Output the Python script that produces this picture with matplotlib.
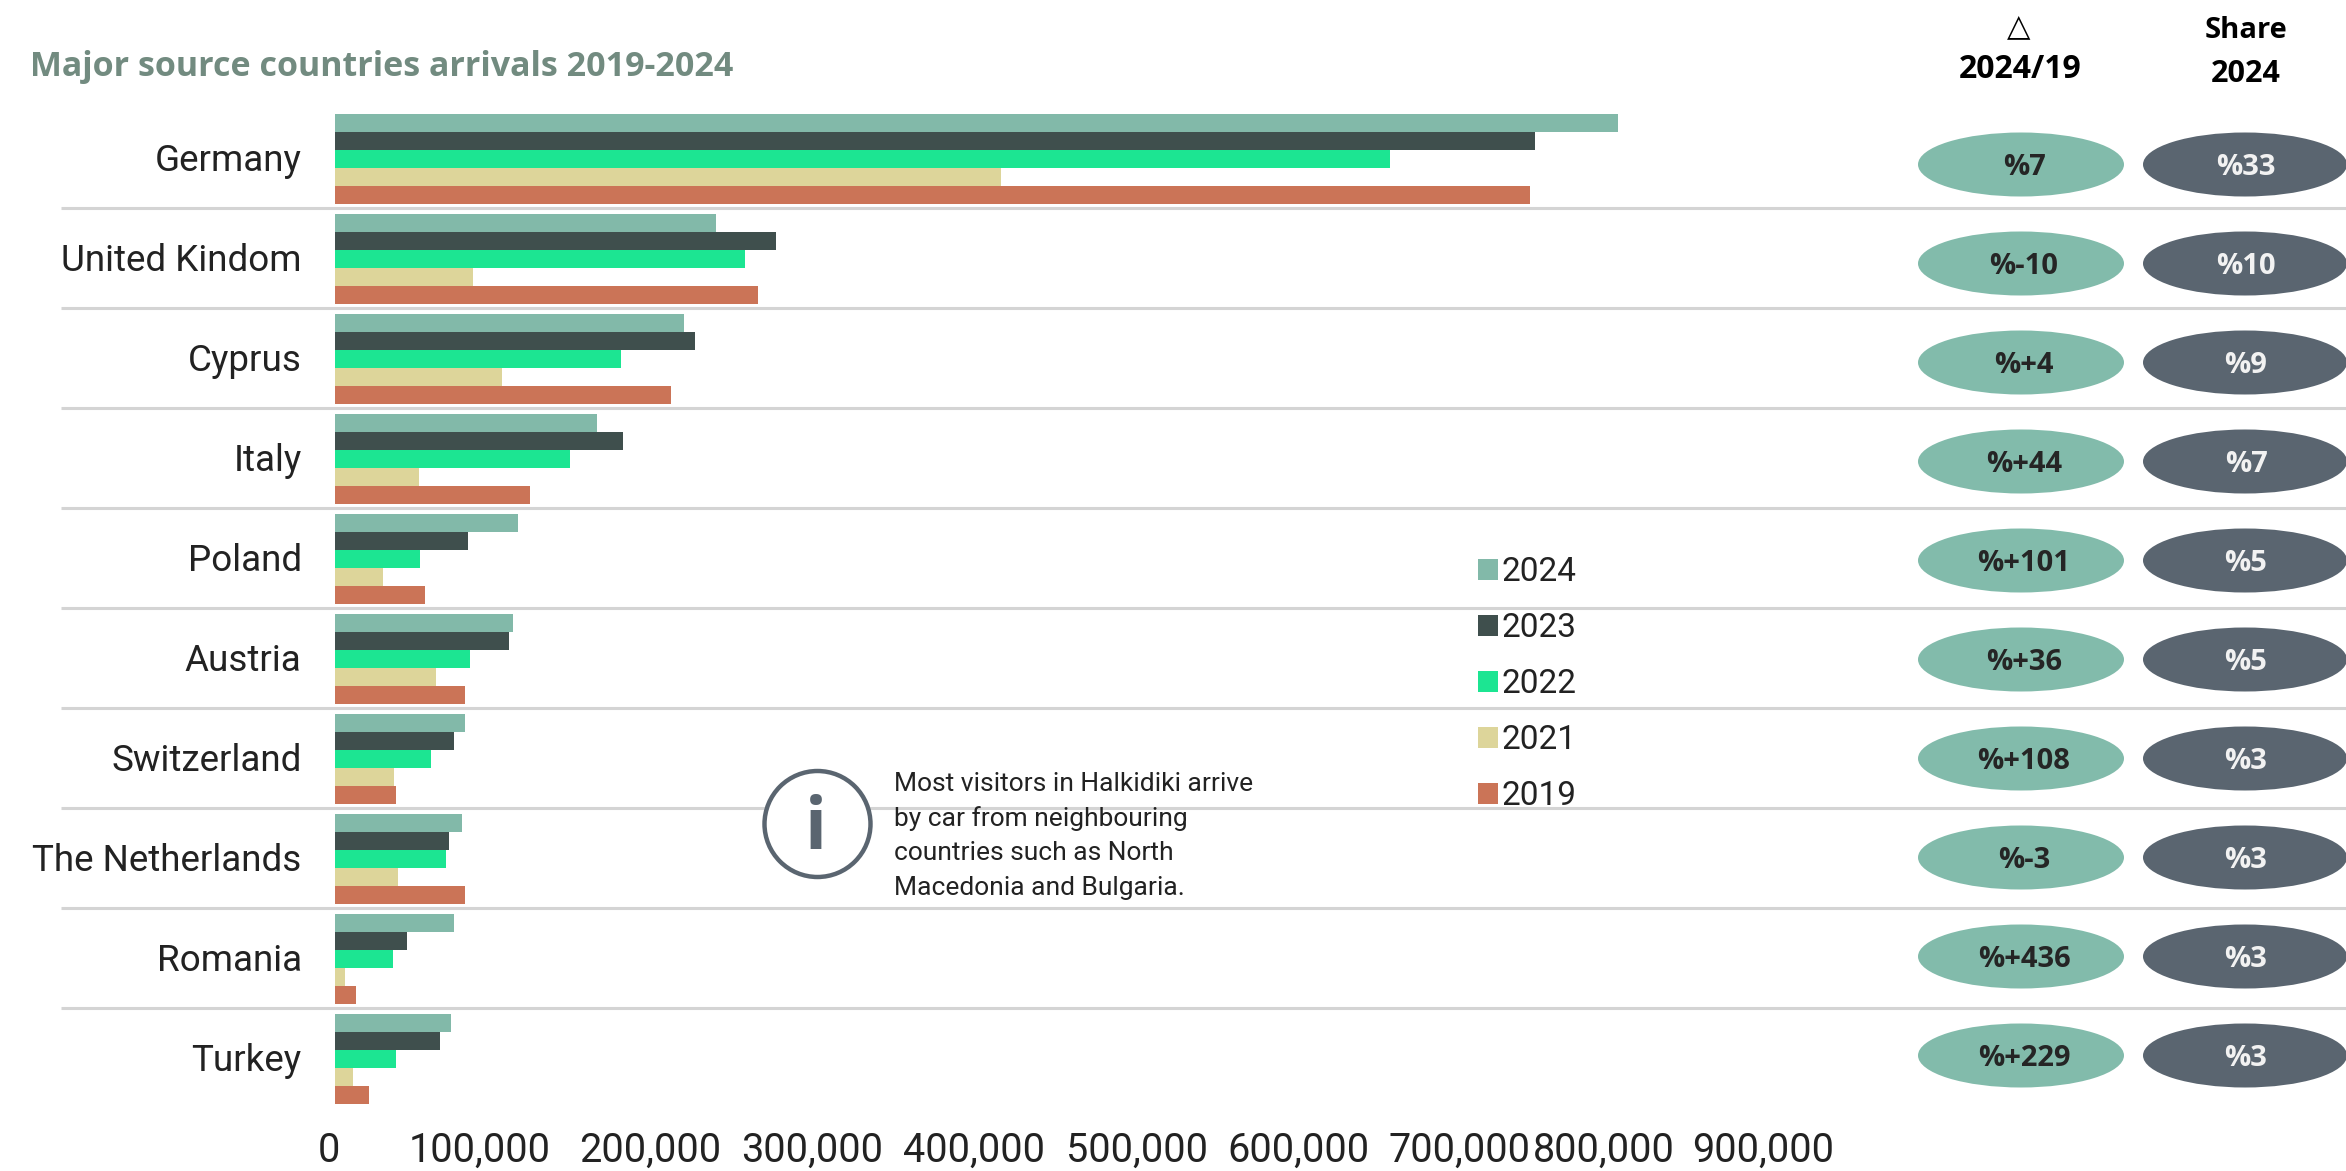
import matplotlib
matplotlib.use("Agg")
import matplotlib.pyplot as plt
from matplotlib import patches
from matplotlib.transforms import ScaledTranslation

W, H = 2346, 1171

countries = ["Germany", "United Kindom", "Cyprus", "Italy", "Poland", "Austria",
             "Switzerland", "The Netherlands", "Romania", "Turkey"]
years = ["2024", "2023", "2022", "2021", "2019"]
v2024 = [798000, 237000, 217000, 163000, 114000, 111000, 81000, 79000, 74000, 72000]
v2023 = [746000, 274000, 224000, 179000, 83000, 108000, 74000, 71000, 45000, 65000]
v2022 = [656000, 255000, 178000, 146000, 53000, 84000, 60000, 69000, 36000, 38000]
v2021 = [414000, 86000, 104000, 52000, 30000, 63000, 37000, 39000, 6500, 11000]
v2019 = [743000, 263000, 209000, 121000, 56000, 81000, 38000, 81000, 13000, 21000]
delta = ["%7", "%-10", "%+4", "%+44", "%+101", "%+36", "%+108", "%-3", "%+436", "%+229"]
share = ["%33", "%10", "%9", "%7", "%5", "%5", "%3", "%3", "%3", "%3"]
xticks = [0, 100000, 200000, 300000, 400000, 500000, 600000, 700000, 800000, 900000]
colors = ["#82B9A9", "#3F4F4D", "#1CE592", "#DDD59A", "#CB7457"]

thin = ["Roboto", "DejaVu Sans"]
bold = ["Open Sans", "DejaVu Sans"]
text_col = "#222222"

fig = plt.figure(figsize=(W / 100, H / 100), dpi=100, facecolor="w")

# overlay in pixels for the side columns and the info note
ov = fig.add_axes([0, 0, 1, 1])
ov.set_xlim(0, W)
ov.set_ylim(H, 0)
ov.axis("off")

# bar axes, 160.8 px per 100,000 and 100 px per row
x0, bottom = 335, 1110
ax = fig.add_axes([x0 / W, (H - bottom) / H, (W - x0) / W, (bottom - 100) / H])
ax.patch.set_alpha(0)
ax.set_xlim(0, (W - x0) / 160.8 * 100000)
row0, rowh = 159, 100.0
ax.set_ylim((bottom - row0) / rowh, (100 - row0) / rowh)

bar_h = 0.18
series = [v2024, v2023, v2022, v2021, v2019]
bars = []
for j, vals in enumerate(series):
    pos = [i + (j - 2) * bar_h for i in range(len(countries))]
    bars.append(ax.barh(pos, vals, height=bar_h, color=colors[j], label=years[j]))

ax.set_yticks(range(len(countries)))
ax.set_yticklabels(countries, fontsize=26.5, family=thin, color=text_col)
ax.tick_params(axis="y", length=0, pad=24)
for lab in ax.get_yticklabels():
    lab.set_transform(lab.get_transform() + ScaledTranslation(0, 2 / 100, fig.dpi_scale_trans))
ax.set_xticks(xticks)
ax.set_xticklabels([f"{v:,}" for v in xticks], fontsize=28.5, family=thin, color=text_col)
ax.tick_params(axis="x", length=0, pad=15)
# the labels sit a bit off the true ticks in the original
shift = [-6, -16, -6, -5, -4, -2, -1, -1, -18, -19]
for lab, dx in zip(ax.get_xticklabels(), shift):
    lab.set_transform(lab.get_transform() + ScaledTranslation(dx / 100, 0, fig.dpi_scale_trans))
for s in ax.spines.values():
    s.set_visible(False)

# separators
for i in range(len(countries) - 1):
    ypx = row0 + rowh * (i + 0.5) - 1
    ov.plot([61, W], [ypx, ypx], color="#D4D4D4", lw=2.2, solid_capstyle="butt")

ax.legend(handles=bars, loc="upper left", bbox_to_anchor=((1478 - x0) / (W - x0), (bottom - 556) / (bottom - 100)),
          frameon=False, prop={"family": thin, "size": 24}, labelcolor=text_col,
          handlelength=0.6, handleheight=0.6, handletextpad=0.1, labelspacing=0.72, borderpad=0, borderaxespad=0)

# title
ov.text(30, 67, "Major source countries arrivals 2019-2024", fontsize=24.5, fontweight="bold",
        family=bold, color="#728B80", va="center", ha="left")

# column headers
ov.text(2019, 27, "\u25b3", fontsize=22, family=["DejaVu Sans"], color="k", ha="center", va="center")
ov.text(2020, 70, "2024/19", fontsize=23, fontweight="bold", family=bold, color="k", ha="center", va="center")
ov.text(2246, 31, "Share", fontsize=21, fontweight="bold", family=bold, color="k", ha="center", va="center")
ov.text(2246, 74, "2024", fontsize=22, fontweight="bold", family=bold, color="k", ha="center", va="center")

# pills
for i in range(len(countries)):
    yc = 164.5 + 99.0 * i
    ov.add_patch(patches.Ellipse((2021, yc), 206, 64, fc="#82BBAB", ec="none", zorder=3))
    ov.add_patch(patches.Ellipse((2245, yc), 204, 64, fc="#5A6570", ec="none", zorder=3))
    ov.text(2024, yc + 3, delta[i], fontsize=21, fontweight="bold", family=bold, color="#252525",
            ha="center", va="center", zorder=4)
    ov.text(2246, yc + 3, share[i], fontsize=21, fontweight="bold", family=bold, color="#F2F2F2",
            ha="center", va="center", zorder=4)

# info note
ov.add_patch(patches.Circle((817.5, 824), 53, fc="w", ec="#5A6570", lw=3.2, zorder=3))
ov.text(816, 830, "i", fontsize=52, fontweight="bold", family=["Open Sans"], color="#5A6570",
        ha="center", va="center", zorder=4)
note = ["Most visitors in Halkidiki arrive", "by car from neighbouring",
        "countries such as North", "Macedonia and Bulgaria."]
for k, line in enumerate(note):
    ov.text(894, 784 + 34.5 * k, line, fontsize=19, family=thin, color=text_col, ha="left", va="center", zorder=4)

fig.savefig("out.png", dpi=100, facecolor="w")
